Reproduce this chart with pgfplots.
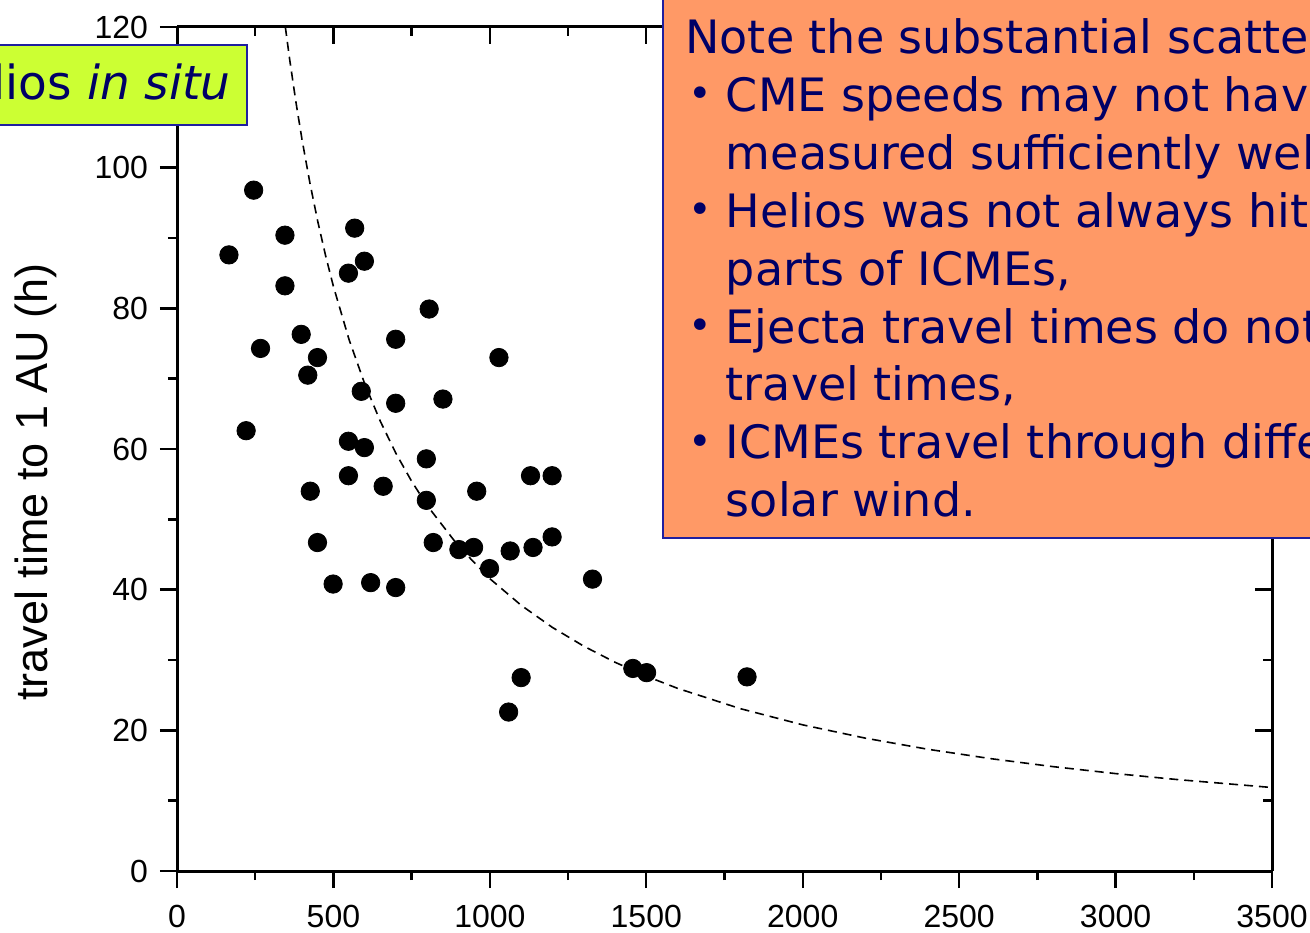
\documentclass[border=0pt]{standalone}
\usepackage{pgfplots}
\pgfplotsset{compat=1.18}
\usepackage{fontspec}
\setmainfont{Liberation Sans}
\newfontfamily\comic{DejaVu Sans}
\definecolor{limebox}{HTML}{CCFF33}
\definecolor{salmonbox}{HTML}{FF9966}
\definecolor{navytext}{HTML}{000066}
\definecolor{boxblue}{HTML}{1F1F9F}

\pgfplotstableread{
v t
166 87.6
245 96.8
221 62.6
267 74.3
345 90.4
345 83.2
397 76.3
418 70.5
449 73.0
426 54.0
449 46.7
499 40.8
548 85.0
568 91.4
599 86.7
589 68.2
548 61.1
599 60.2
548 56.2
619 41.0
659 54.7
699 75.6
699 66.5
699 40.3
806 79.9
797 58.6
797 52.7
850 67.1
819 46.7
901 45.7
948 46.0
958 54.0
999 43.0
1029 73.0
1065 45.5
1130 56.2
1138 46.0
1199 56.2
1199 47.5
1328 41.5
1060 22.6
1100 27.5
1457 28.8
1501 28.2
1822 27.6
}\pointsdata

\pgfplotstableread{
v t
346.3 120.0
360 115.43
380 109.36
400 103.89
425 97.78
450 92.34
475 87.48
500 83.11
550 75.55
600 69.26
650 63.93
700 59.36
750 55.41
800 51.94
900 46.17
1000 41.56
1100 37.78
1200 34.63
1300 31.97
1400 29.68
1500 27.70
1600 25.97
1800 23.09
2000 20.78
2200 18.89
2400 17.31
2600 15.98
2800 14.84
3000 13.85
3200 12.99
3500 11.87
}\curvedata

\newcommand{\bul}{\raisebox{1.8pt}{\fontsize{20}{20}\selectfont •}}

\begin{document}
\begin{tikzpicture}
\path[use as bounding box] (-88.5pt,-30.5pt) rectangle (566.5pt,435.5pt);
\clip (-88.5pt,-30.5pt) rectangle (566.5pt,435.5pt);
\pgfplotsset{
  myaxis/.style={
    at={(0pt,0pt)}, anchor=south west, scale only axis,
    width=547.5pt, height=422pt,
    xmin=0, xmax=3500, ymin=0, ymax=120,
    xtick={0,500,...,3500}, ytick={0,20,...,120},
    minor x tick num=1, minor y tick num=1,
    major tick length=8.5pt, minor tick length=4.5pt,
    every tick/.style={black, line width=1.2pt},
    axis line style={line width=1.5pt, -},
    scaled ticks=false,
    /pgf/number format/1000 sep={},
    /pgf/number format/assume math mode=true,
    tick label style={font=\fontsize{16}{19}\selectfont},
  }
}
\begin{axis}[myaxis,
  axis x line*=bottom, axis y line*=left,
  tick align=outside, xtick pos=left, ytick pos=left,
  xticklabel style={anchor=north, inner sep=0pt, yshift=-8.5pt},
  yticklabel style={anchor=east, inner sep=0pt, xshift=-5.8pt},
]
\addplot[only marks, mark=*, mark size=4.6pt, black] table[x=v, y=t] {\pointsdata};
\addplot[black, line width=0.8pt, dash pattern=on 4.5pt off 3pt] table[x=v, y=t] {\curvedata};
\end{axis}
\begin{axis}[myaxis,
  axis x line*=top, axis y line*=right,
  tick align=inside, xtick pos=right, ytick pos=right,
  xticklabels={}, yticklabels={},
]
\end{axis}

% y label
\node[rotate=90, inner sep=0pt, font=\fontsize{22.5}{26}\selectfont] at (-70.5pt,194.5pt) {travel time to 1 AU (h)};

% Helios box
\draw[fill=limebox, draw=boxblue, line width=1.3pt] (-120pt,373pt) rectangle (35pt,413pt);
\node[anchor=base east, inner sep=0pt, text=navytext, font=\comic\fontsize{23.5}{27}\selectfont] at (27pt,385.5pt) {Helios \textit{in situ}};

% Note box
\draw[fill=salmonbox, draw=boxblue, line width=1.3pt] (243pt,166.5pt) rectangle (700pt,520pt);
\begin{scope}[every node/.style={anchor=base west, inner sep=0pt, text=navytext, font=\comic\fontsize{23}{28}\selectfont}]
\node at (254pt,408.7pt) {Note the substantial scatter:};
\node at (255.5pt,379.75pt) {\bul};
\node at (274.25pt,379.75pt) {CME speeds may not have been};
\node at (274.25pt,350.8pt) {measured sufficiently well,};
\node at (255.5pt,321.85pt) {\bul};
\node at (274.25pt,321.85pt) {Helios was not always hit by the same};
\node at (274.25pt,292.9pt) {parts of ICMEs,};
\node at (255.5pt,263.95pt) {\bul};
\node at (274.25pt,263.95pt) {Ejecta travel times do not equal shock};
\node at (274.25pt,235pt) {travel times,};
\node at (255.5pt,206.05pt) {\bul};
\node at (274.25pt,206.05pt) {ICMEs travel through different};
\node at (274.25pt,177.1pt) {solar wind.};
\end{scope}
\end{tikzpicture}
\end{document}
